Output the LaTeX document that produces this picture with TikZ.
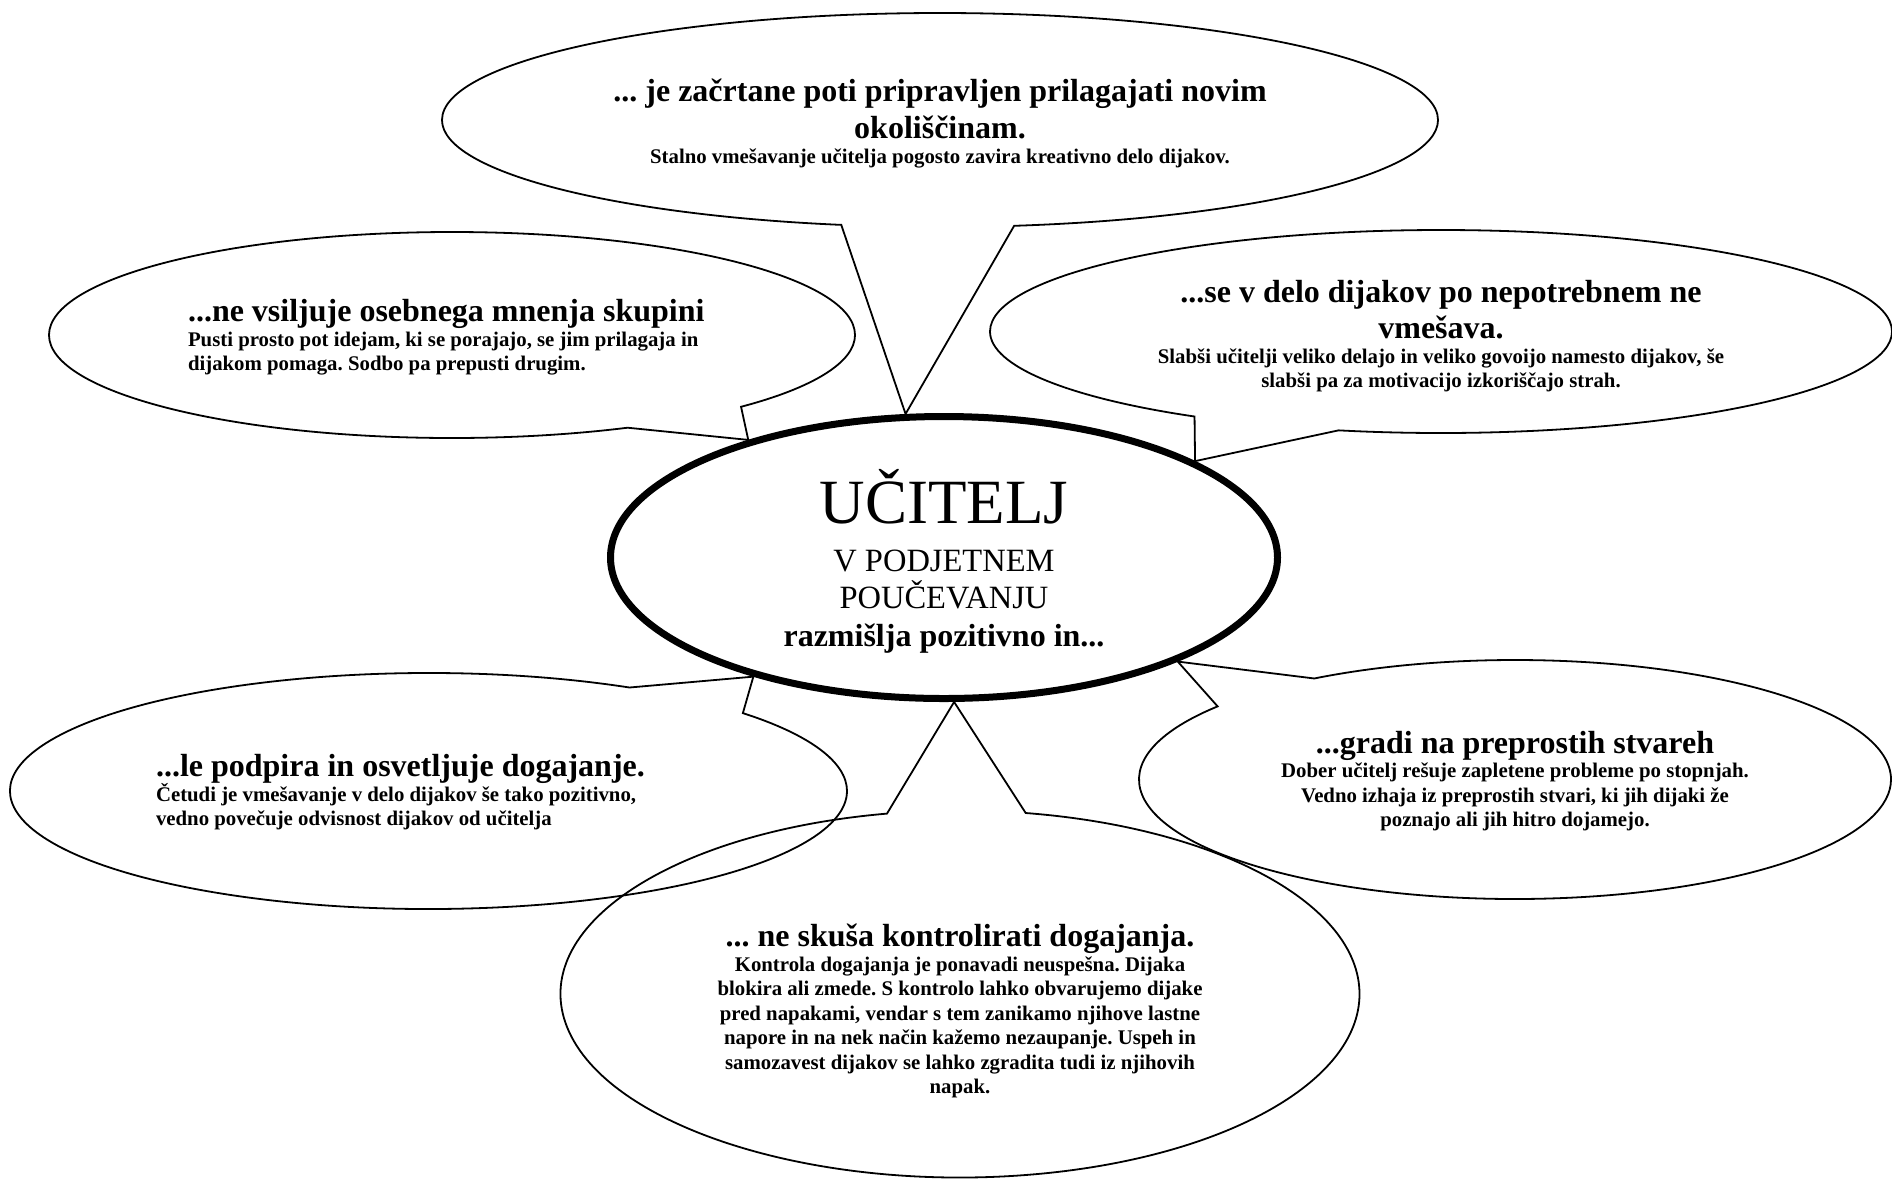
\documentclass[tikz,border=0pt]{standalone}
\usepackage{fontspec}
\setmainfont{Liberation Serif}
\usetikzlibrary{shapes.geometric,shapes.callouts}
\newcommand{\plainspaces}{\spaceskip=.25em\xspaceskip=.25em\lineskiplimit=-20pt\relax}
\newcommand{\bubblehead}{\fontsize{32}{36.6}\selectfont\bfseries\plainspaces}
\newcommand{\bubbletext}{\fontsize{20.8}{24.5}\selectfont\bfseries\plainspaces}

\begin{document}
\begin{tikzpicture}[x=1pt,y=-1pt,
        bubble/.style={ellipse callout, draw, line width=1.8pt, inner xsep=-40pt, inner ysep=0pt, callout pointer arc=20},
        hub/.style={ellipse, draw, line width=7pt, inner sep=0pt, align=center, text width=420pt}]
    \useasboundingbox (0,0) rectangle (1892,1179);
    \node[hub, minimum width=667pt, minimum height=282pt] (hub) at (944,557.5)
        {{\fontsize{63}{68}\selectfont\rule{0pt}{62pt}UČITELJ\par}\vspace{11pt}
         {\fontsize{32.5}{37}\selectfont\plainspaces V PODJETNEM\\ POUČEVANJU\par}
         {\fontsize{32}{38}\selectfont\bfseries\plainspaces razmišlja pozitivno in...\par}};
    \node[bubble, minimum width=996pt, minimum height=214pt, align=center, text width=720pt,
        callout absolute pointer={(hub.105)}] (top) at (940,120)
        {\bubblehead\rule{0pt}{29.6pt}... je začrtane poti pripravljen prilagajati novim\\ okoliščinam.\par
         \bubbletext Stalno vmešavanje učitelja pogosto zavira kreativno delo dijakov.\par};
    \node[bubble, minimum width=806pt, minimum height=206pt, align=left, text width=600pt,
        callout absolute pointer={(hub.149)}] (topleft) at (452,335)
        {\leftskip=36pt\bubblehead\rule{0pt}{27pt}...ne vsiljuje osebnega mnenja skupini\par
         \bubbletext Pusti prosto pot idejam, ki se porajajo, se jim prilagaja in\\ dijakom pomaga. Sodbo pa prepusti drugim.\par};
    \node[bubble, minimum width=902pt, minimum height=203pt, align=center, text width=660pt,
        callout absolute pointer={(hub.21.6)}] (topright) at (1441,331.5)
        {\bubblehead\rule{0pt}{31.3pt}...se v delo dijakov po nepotrebnem ne\\ vmešava.\par
         \bubbletext Slabši učitelji veliko delajo in veliko govoijo namesto dijakov, še\\ slabši pa za motivacijo izkoriščajo strah.\par};
    \node[bubble, minimum width=837pt, minimum height=236pt, align=left, text width=600pt,
        callout absolute pointer={(hub.212.8)}] (botleft) at (428.5,791)
        {\leftskip=27.5pt\bubblehead\rule{0pt}{25pt}...le podpira in osvetljuje dogajanje.\par
         \bubbletext Četudi je vmešavanje v delo dijakov še tako pozitivno,\\ vedno povečuje odvisnost dijakov od učitelja\par};
    \node[bubble, minimum width=752pt, minimum height=239pt, align=center, text width=560pt,
        callout absolute pointer={(hub.-24.8)}] (botright) at (1515,779.5)
        {\bubblehead\rule{0pt}{25pt}...gradi na preprostih stvareh\par
         \bubbletext Dober učitelj rešuje zapletene probleme po stopnjah.\\ Vedno izhaja iz preprostih stvari, ki jih dijaki že\\ poznajo ali jih hitro dojamejo.\par};
    \node[bubble, minimum width=799pt, minimum height=367pt, align=center, text width=580pt,
        callout absolute pointer={(hub.-86.5)}] (bottom) at (960,994)
        {\bubblehead\rule{0pt}{57pt}... ne skuša kontrolirati dogajanja.\par
         \bubbletext Kontrola dogajanja je ponavadi neuspešna. Dijaka\\ blokira ali zmede. S kontrolo lahko obvarujemo dijake\\ pred napakami, vendar s tem zanikamo njihove lastne\\ napore in na nek način kažemo nezaupanje. Uspeh in\\ samozavest dijakov se lahko zgradita tudi iz njihovih\\ napak.\par};
\end{tikzpicture}
\end{document}
